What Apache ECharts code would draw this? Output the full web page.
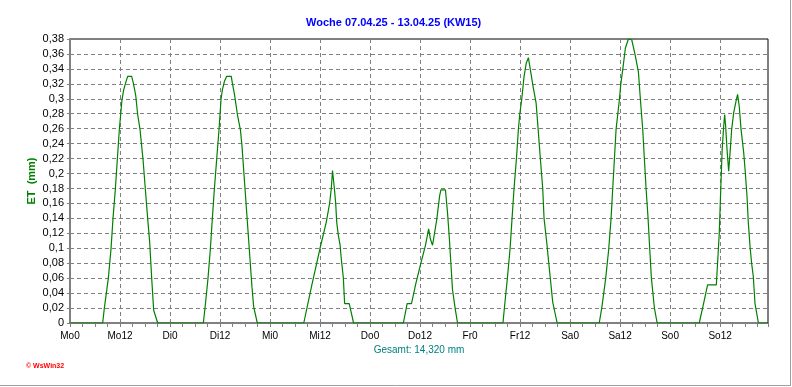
<!DOCTYPE html>
<html>
<head>
<meta charset="utf-8">
<script src="https://cdn.jsdelivr.net/npm/echarts@6/dist/echarts.min.js"></script>
<style>
html,body{margin:0;padding:0;background:#fff;}
#chart{width:792px;height:387px;}
</style>
</head>
<body>
<div id="chart"></div>
<script>
const titleText = 'Woche 07.04.25 - 13.04.25 (KW15)';
const totalText = 'Gesamt: 14,320 mm';
const yName = 'ET  (mm)';
const xTickLabels = ['Mo0','Mo12','Di0','Di12','Mi0','Mi12','Do0','Do12','Fr0','Fr12','Sa0','Sa12','So0','So12'];

// hours since Monday 00:00
const hours = [
  0,
  7.84, 8.24, 9.2, 9.84, 10.32, 10.88, 11.36, 11.84, 12.16, 12.48, 12.88, 13.44, 13.84, 14.8, 15.2, 15.76, 16.24, 16.8, 17.52, 18.08, 18.64, 19.12, 19.6, 20.08, 21.04,
  32.0, 32.4, 33.12, 33.68, 34.16, 34.64, 35.2, 35.76, 36.0, 36.24, 36.56, 37.04, 37.6, 38.7, 38.9, 39.5, 40.2, 40.9, 41.27, 42.07, 42.87, 43.67, 44.07, 44.95,
  56.1, 58.0, 60.0, 61.5, 62.3, 62.7, 63.0, 63.2, 63.44, 63.76, 64.0, 64.4, 64.8, 65.1, 65.6, 65.9, 67.0, 67.5, 68.05,
  80.0, 80.9, 81.95, 83.0, 84.2, 85.3, 86.06, 86.5, 87.0, 88.0, 88.7, 89.0, 90.1, 90.6, 91.0, 91.4, 91.8, 92.5, 93.0,
  103.9, 104.24, 104.96, 105.6, 106.08, 106.56, 107.12, 107.6, 107.92, 108.4, 108.96, 109.5, 110.0, 110.56, 111.2, 111.84, 112.4, 112.88, 113.44, 113.76, 114.4, 115.04, 115.84, 116.9,
  127.0, 127.6, 128.56, 129.28, 129.84, 130.24, 130.64, 131.04, 131.44, 131.84, 132.16, 132.64, 133.28, 134.0, 134.8, 135.6, 136.4, 136.88, 137.44, 137.84, 138.24, 138.72, 139.12, 139.52, 140.24, 140.9,
  151.0, 152.0, 153.0, 155.1, 155.5, 155.8, 156.1, 156.5, 156.86, 157.1, 157.34, 157.67, 158.06, 158.4, 158.78, 159.26, 159.83, 160.2, 160.6, 161.03, 161.67, 162.06, 162.47, 162.78, 163.19, 163.57, 163.98, 164.38, 165.2,
  167.5
];
const et = [
  0,
  0, 0.02, 0.06, 0.099, 0.14, 0.179, 0.219, 0.259, 0.279, 0.299, 0.312, 0.323, 0.33, 0.33, 0.321, 0.305, 0.279, 0.259, 0.219, 0.179, 0.14, 0.108, 0.06, 0.017, 0,
  0, 0.02, 0.06, 0.099, 0.14, 0.179, 0.219, 0.259, 0.279, 0.299, 0.312, 0.323, 0.33, 0.33, 0.323, 0.305, 0.278, 0.258, 0.237, 0.174, 0.111, 0.048, 0.022, 0,
  0, 0.05, 0.1, 0.135, 0.16, 0.18, 0.204, 0.193, 0.18, 0.16, 0.135, 0.117, 0.105, 0.086, 0.06, 0.026, 0.026, 0.014, 0,
  0, 0.026, 0.026, 0.053, 0.08, 0.104, 0.126, 0.112, 0.104, 0.138, 0.17, 0.178, 0.178, 0.147, 0.116, 0.08, 0.044, 0.017, 0,
  0, 0.02, 0.06, 0.099, 0.14, 0.18, 0.219, 0.259, 0.279, 0.299, 0.33, 0.348, 0.355, 0.336, 0.314, 0.295, 0.255, 0.219, 0.18, 0.14, 0.108, 0.072, 0.028, 0,
  0, 0.02, 0.06, 0.099, 0.14, 0.18, 0.219, 0.259, 0.279, 0.299, 0.319, 0.339, 0.368, 0.38, 0.379, 0.359, 0.336, 0.299, 0.259, 0.219, 0.18, 0.14, 0.099, 0.06, 0.02, 0,
  0, 0.025, 0.051, 0.051, 0.09, 0.12, 0.169, 0.232, 0.263, 0.279, 0.263, 0.232, 0.203, 0.228, 0.259, 0.281, 0.297, 0.306, 0.29, 0.259, 0.228, 0.201, 0.169, 0.134, 0.102, 0.08, 0.062, 0.026, 0,
  0
];

const seriesData = hours.map((h, i) => [h, et[i]]);
const chart = echarts.init(document.getElementById('chart'), null, {renderer: 'canvas'});
const font = 'Liberation Sans, Arial, sans-serif';
chart.setOption({
  animation: false,
  backgroundColor: '#ffffff',
  textStyle: {fontFamily: font},
  title: {
    text: titleText,
    left: 306, top: 17, padding: 0,
    textStyle: {color: '#0000ff', fontSize: 11, fontWeight: 'bold', fontFamily: font}
  },
  grid: {left: 70, right: 24, top: 39, bottom: 64, show: true, borderColor: '#000000', borderWidth: 1, backgroundColor: 'transparent'},
  xAxis: {
    type: 'value', min: 0, max: 167.5, interval: 12,
    name: totalText, nameLocation: 'middle', nameGap: 22, nameMoveOverlap: false,
    nameTextStyle: {color: '#008080', fontSize: 10, fontFamily: font},
    axisLine: {show: true, onZero: false, lineStyle: {color: '#808080', width: 1}},
    axisTick: {show: true, length: 4, lineStyle: {color: '#808080'}},
    minorTick: {show: true, splitNumber: 4, length: 4, lineStyle: {color: '#808080'}},
    axisLabel: {
      color: '#000', fontSize: 10, margin: 8, fontFamily: font,
      showMaxLabel: false,
      formatter: v => (Math.abs(v % 12) < 1e-6 && xTickLabels[Math.round(v / 12)] !== undefined) ? xTickLabels[Math.round(v / 12)] : ''
    },
    splitLine: {show: true, lineStyle: {color: '#808080', type: [4, 3], width: 1}}
  },
  yAxis: {
    type: 'value', min: 0, max: 0.38, interval: 0.02,
    name: yName, nameLocation: 'middle', nameGap: 33, nameMoveOverlap: false,
    nameTextStyle: {color: '#008000', fontSize: 11, fontWeight: 'bold', fontFamily: font},
    axisLine: {show: true, lineStyle: {color: '#808080', width: 2}},
    axisTick: {show: true, length: 3, lineStyle: {color: '#808080'}},
    axisLabel: {
      color: '#000', fontSize: 11, margin: 6, fontFamily: font,
      formatter: v => v === 0 ? '0' : String(+v.toFixed(2)).replace('.', ',')
    },
    splitLine: {show: true, lineStyle: {color: '#808080', type: [4, 3], width: 1}}
  },
  series: [{
    type: 'line', data: seriesData, showSymbol: false, smooth: false,
    lineStyle: {color: '#008000', width: 1.2}, itemStyle: {color: '#008000'}
  }],
  graphic: [
    {type: 'text', left: 26, top: 363, style: {text: '© WsWin32', fill: '#ff0000', font: 'bold 7px ' + font}},
    {type: 'line', shape: {x1: 790.5, y1: 0, x2: 790.5, y2: 386}, style: {stroke: '#a0a0a0', lineWidth: 1}},
    {type: 'line', shape: {x1: 0, y1: 385.5, x2: 791, y2: 385.5}, style: {stroke: '#a0a0a0', lineWidth: 1}}
  ]
});
</script>
</body>
</html>
